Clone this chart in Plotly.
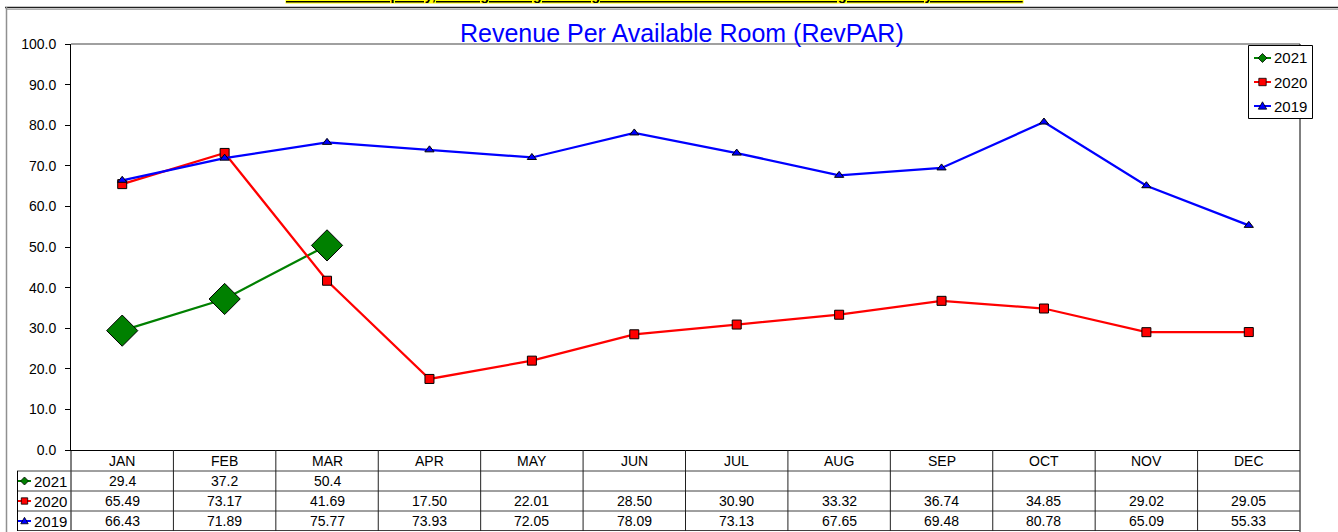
import plotly.graph_objects as go

# ---------------- data ----------------
months = ["JAN", "FEB", "MAR", "APR", "MAY", "JUN", "JUL", "AUG", "SEP", "OCT", "NOV", "DEC"]
series_names = ["2021", "2020", "2019"]
v2021 = [29.4, 37.2, 50.4]
v2020 = [65.49, 73.17, 41.69, 17.50, 22.01, 28.50, 30.90, 33.32, 36.74, 34.85, 29.02, 29.05]
v2019 = [66.43, 71.89, 75.77, 73.93, 72.05, 78.09, 73.13, 67.65, 69.48, 80.78, 65.09, 55.33]
y_ticks = [0, 10, 20, 30, 40, 50, 60, 70, 80, 90, 100]
title_text = "Revenue Per Available Room (RevPAR)"
banner_text = "12 Month Occupancy, Rolling Average through March 2021 is 43.0% with a change from last year of -32.5%"

values = {"2021": v2021, "2020": v2020, "2019": v2019}
fmt = {"2021": "{:.1f}", "2020": "{:.2f}", "2019": "{:.2f}"}
colors = {"2021": "#008000", "2020": "#FF0000", "2019": "#0000FF"}
symbols = {"2021": "diamond", "2020": "square", "2019": "triangle-up"}
sizes = {"2021": 24, "2020": 9, "2019": 8}

FONT = "Arial, Liberation Sans, sans-serif"

# ---------------- geometry (pixels) ----------------
W, H = 1338, 532
L, R, T, B = 71, 1300, 44, 450
N = len(months)
xs = list(range(N))


def px_x(px):
    return (px - L) / (R - L)


def px_y(py):
    return (B - py) / (B - T)


def key_path(kind, cx, cy, r):
    if kind == "diamond":
        pts = [(cx, cy - r), (cx + r, cy), (cx, cy + r), (cx - r, cy)]
    elif kind == "square":
        pts = [(cx - r, cy - r), (cx + r, cy - r), (cx + r, cy + r), (cx - r, cy + r)]
    else:
        pts = [(cx, cy - r), (cx + r, cy + r * 0.75), (cx - r, cy + r * 0.75)]
    return "M " + " L ".join(f"{px_x(a):.6f},{px_y(b):.6f}" for a, b in pts) + " Z"


key_r = {"2021": 4.5, "2020": 3.7, "2019": 4.2}

fig = go.Figure()

# data traces
for name in series_names:
    vals = values[name]
    fig.add_trace(go.Scatter(
        x=xs[:len(vals)], y=vals, mode="lines+markers", name=name,
        line=dict(color=colors[name], width=2.25),
        marker=dict(symbol=symbols[name], size=sizes[name], color=colors[name],
                    line=dict(color="black", width=1)),
        showlegend=False, text=months[:len(vals)], hoverinfo="text+y+name",
    ))

shapes = []
annotations = []

# outer frame
shapes.append(dict(type="line", xref="paper", yref="paper", x0=px_x(5), x1=px_x(W),
                   y0=px_y(7.5), y1=px_y(7.5), line=dict(color="#202020", width=1.5)))
shapes.append(dict(type="line", xref="paper", yref="paper", x0=px_x(6), x1=px_x(W),
                   y0=px_y(9.5), y1=px_y(9.5), line=dict(color="#B0B0B0", width=1)))
shapes.append(dict(type="line", xref="paper", yref="paper", x0=px_x(6.5), x1=px_x(6.5),
                   y0=px_y(7), y1=px_y(H), line=dict(color="#909090", width=1.5)))

# plot frame: top gray, right black
shapes.append(dict(type="line", xref="paper", yref="paper", x0=0, x1=1, y0=1, y1=1,
                   line=dict(color="#808080", width=1.5)))
shapes.append(dict(type="line", xref="paper", yref="paper", x0=1, x1=1, y0=1, y1=px_y(H),
                   line=dict(color="black", width=1)))
# left axis continues down through table
shapes.append(dict(type="line", xref="paper", yref="paper", x0=0, x1=0, y0=0, y1=px_y(531),
                   line=dict(color="black", width=1)))

# table
row_tops = [450, 471, 491, 511, 530.5]
for ytop in row_tops[1:]:
    shapes.append(dict(type="line", xref="paper", yref="paper", x0=px_x(17), x1=1,
                       y0=px_y(ytop), y1=px_y(ytop), line=dict(color="#404040", width=1)))
shapes.append(dict(type="line", xref="paper", yref="paper", x0=px_x(17.5), x1=px_x(17.5),
                   y0=px_y(471), y1=px_y(531), line=dict(color="black", width=1)))
for k in range(1, N):
    shapes.append(dict(type="line", xref="x", yref="paper", x0=k - 0.5, x1=k - 0.5,
                       y0=0, y1=px_y(531), line=dict(color="#202020", width=1)))

for i, m in enumerate(months):
    annotations.append(dict(x=xs[i], y=px_y(461), xref="x", yref="paper", text=m, showarrow=False,
                            font=dict(family=FONT, size=14, color="black"),
                            xanchor="center", yanchor="middle"))

row_centers = {"2021": 481, "2020": 501, "2019": 521}
for name in series_names:
    yc = row_centers[name]
    for i, v in enumerate(values[name]):
        annotations.append(dict(x=xs[i], y=px_y(yc), xref="x", yref="paper", text=fmt[name].format(v),
                                showarrow=False, font=dict(family=FONT, size=14, color="black"),
                                xanchor="center", yanchor="middle"))
    # row key
    shapes.append(dict(type="line", xref="paper", yref="paper", x0=px_x(18), x1=px_x(31),
                       y0=px_y(yc), y1=px_y(yc), line=dict(color=colors[name], width=2)))
    shapes.append(dict(type="path", xref="paper", yref="paper",
                       path=key_path(symbols[name], 24.5, yc, key_r[name] - 0.5),
                       fillcolor=colors[name], line=dict(color="black", width=0.8)))
    annotations.append(dict(x=px_x(69), y=px_y(yc), xref="paper", yref="paper", text=name,
                            showarrow=False, font=dict(family=FONT, size=15, color="black"),
                            xanchor="right", yanchor="middle"))

# legend box (manual)
shapes.append(dict(type="rect", xref="paper", yref="paper", x0=px_x(1248.5), x1=px_x(1312.5),
                   y0=px_y(45.5), y1=px_y(118.5), fillcolor="white",
                   line=dict(color="black", width=1)))
legend_y = {"2021": 58, "2020": 82, "2019": 106}
for name in series_names:
    yc = legend_y[name]
    shapes.append(dict(type="line", xref="paper", yref="paper", x0=px_x(1254), x1=px_x(1271),
                       y0=px_y(yc), y1=px_y(yc), line=dict(color=colors[name], width=2)))
    shapes.append(dict(type="path", xref="paper", yref="paper",
                       path=key_path(symbols[name], 1262.5, yc, key_r[name]),
                       fillcolor=colors[name], line=dict(color="black", width=0.8)))
    annotations.append(dict(x=px_x(1272), y=px_y(yc), xref="paper", yref="paper", text=name,
                            showarrow=False, font=dict(family=FONT, size=15, color="black"),
                            xanchor="left", yanchor="middle"))

# title
annotations.append(dict(x=px_x(682), y=px_y(33), xref="paper", yref="paper", text=title_text,
                        showarrow=False, font=dict(family=FONT, size=25, color="#0000FF"),
                        xanchor="center", yanchor="middle"))
# banner (mostly cut off at the top)
annotations.append(dict(x=px_x(654), y=px_y(4), xref="paper", yref="paper",
                        text="<b><u>" + banner_text + "</u></b>",
                        showarrow=False, font=dict(family=FONT, size=14.6, color="black"),
                        bgcolor="#FFFF00", borderpad=0,
                        xanchor="center", yanchor="bottom"))

fig.update_layout(
    width=W, height=H, autosize=False,
    margin=dict(l=L, r=W - R, t=T, b=H - B, pad=0),
    paper_bgcolor="white", plot_bgcolor="white",
    font=dict(family=FONT, size=14, color="black"),
    showlegend=False,
    xaxis=dict(range=[-0.5, N - 0.5], showgrid=False, zeroline=False,
               showline=True, linecolor="black", linewidth=1,
               showticklabels=False, ticks=""),
    yaxis=dict(range=[0, 100], tickvals=y_ticks, tickformat=".1f", showgrid=False, zeroline=False,
               showline=True, linecolor="black", linewidth=1,
               ticks="outside", ticklen=5, tickcolor="black", ticklabelstandoff=6,
               tickfont=dict(family=FONT, size=14, color="black")),
    shapes=shapes,
    annotations=annotations,
    hovermode="closest",
)

fig.write_html("out.html", config={"displayModeBar": False},
               post_script="document.body.style.margin='0px';document.body.style.overflow='hidden';")
